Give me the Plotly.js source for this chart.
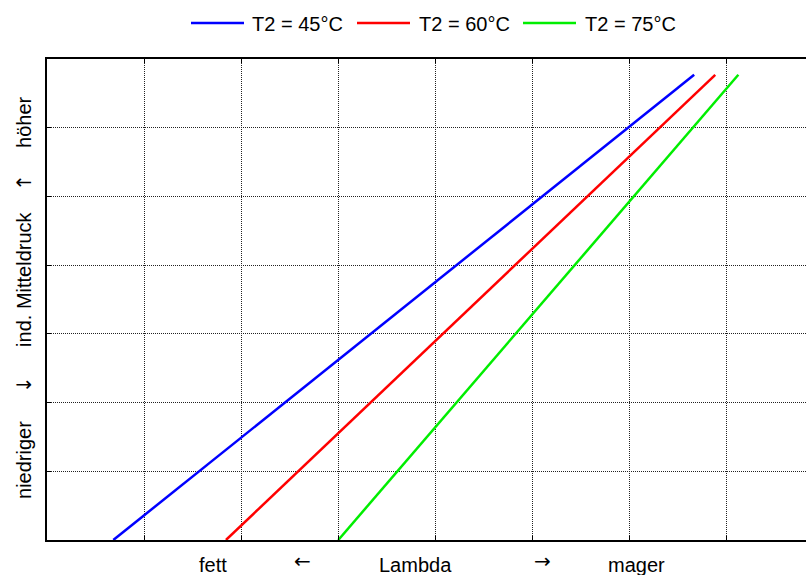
<!DOCTYPE html>
<html>
<head>
<meta charset="utf-8">
<script src="https://cdn.plot.ly/plotly-3.0.1.min.js"></script>
<style>html,body{margin:0;padding:0;background:#fff;}#chart{width:806px;height:575px;}</style>
</head>
<body>
<div id="chart"></div>
<script>
// Series: Lambda (grid units) vs ind. Mitteldruck (grid units)
const seriesNames = ["T2 = 45°C", "T2 = 60°C", "T2 = 75°C"];
const seriesColors = ["#0000ff", "#ff0000", "#00ee00"];
const lambda45 = [0.683, 6.665];
const lambda60 = [1.843, 6.882];
const lambda75 = [3.000, 7.120];
const pressure = [0, 6.77];

// Axis annotation labels
const xLabels = ["fett", "←", "Lambda", "→", "mager"];
const xLabelPos = [1.71, 2.63, 3.795, 5.10, 6.07];
const yLabels = ["niedriger", "↓", "ind. Mitteldruck", "↑", "höher"];
const yLabelPos = [1.165, 2.256, 3.785, 5.20, 6.07];

const xs = [lambda45, lambda60, lambda75];
const FONT = "Liberation Sans, Arial, sans-serif";
const ARROWFONT = "DejaVu Sans, sans-serif";
const isArrow = t => /^[←→↑↓]$/.test(t);

const traces = xs.map((x, i) => ({
  x: x, y: pressure, type: "scatter", mode: "lines",
  name: seriesNames[i], line: {color: seriesColors[i], width: 2.5},
  showlegend: false, hoverinfo: "skip"
}));

const W = 806, ML = 47, PW = W - ML;
const px2paperX = p => (p - ML) / PW;
const py2paperY = p => (540 - p) / 481;

const shapes = [];
const annotations = [];
const legLineX = [191, 357, 523];
const legTextX = [250, 417, 583];
seriesNames.forEach((n, i) => {
  shapes.push({type: "line", xref: "paper", yref: "paper",
    x0: px2paperX(legLineX[i]), x1: px2paperX(legLineX[i] + 53),
    y0: py2paperY(23), y1: py2paperY(23),
    line: {color: seriesColors[i], width: 2.5}});
  annotations.push({xref: "paper", yref: "paper", x: px2paperX(legTextX[i]), y: py2paperY(24),
    xanchor: "left", yanchor: "middle", text: n, showarrow: false,
    font: {family: FONT, size: 20, color: "#000"}});
});
xLabels.forEach((t, i) => annotations.push({
  xref: "x", yref: "paper", x: xLabelPos[i], y: py2paperY(isArrow(t) ? 561 : 565),
  xanchor: "center", yanchor: "middle", text: t, showarrow: false,
  font: {family: isArrow(t) ? ARROWFONT : FONT, size: 20, color: "#000"}}));
yLabels.forEach((t, i) => annotations.push({
  xref: "paper", yref: "y", x: px2paperX(24), y: yLabelPos[i],
  xanchor: "center", yanchor: "middle", text: t, showarrow: false, textangle: -90,
  font: {family: isArrow(t) ? ARROWFONT : FONT, size: 20, color: "#000"}}));

const layout = {
  width: 806, height: 575,
  margin: {l: ML, r: 0, t: 59, b: 35, pad: 0},
  paper_bgcolor: "#fff", plot_bgcolor: "#fff",
  showlegend: false,
  font: {family: FONT, size: 20, color: "#000"},
  xaxis: {range: [0, PW / 97.1], dtick: 1, tick0: 0, showticklabels: false,
    showgrid: true, gridcolor: "#222", griddash: "1px,1px", gridwidth: 1, zeroline: false,
    showline: true, linecolor: "#000", linewidth: 2, mirror: "ticks",
    ticks: "inside", ticklen: 4, tickcolor: "#000", tickwidth: 1, fixedrange: true},
  yaxis: {range: [0, 7], dtick: 1, tick0: 0, showticklabels: false,
    showgrid: true, gridcolor: "#222", griddash: "1px,1px", gridwidth: 1, zeroline: false,
    showline: true, linecolor: "#000", linewidth: 2,
    ticks: "inside", ticklen: 4, tickcolor: "#000", tickwidth: 1, fixedrange: true},
  shapes: shapes,
  annotations: annotations
};
Plotly.newPlot("chart", traces, layout, {staticPlot: true});
</script>
</body>
</html>
